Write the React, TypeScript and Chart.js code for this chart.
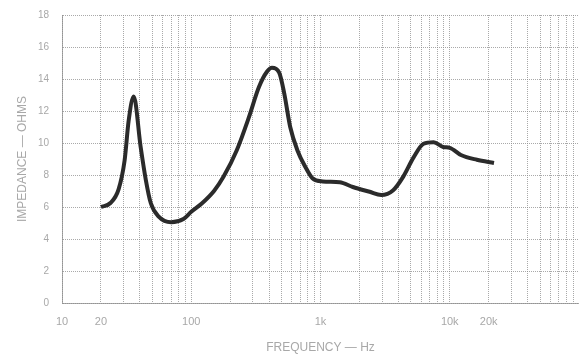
import React, { useEffect, useRef } from "react";
import { Chart, registerables } from "chart.js";

Chart.register(...registerables);

const freqHz = [20, 23.7, 27.4, 30.5, 32.8, 35.9, 40.6, 44.5, 48.6, 56, 70, 87, 100, 120, 150, 178, 225, 279, 334, 385, 421, 479, 524, 583, 662, 764, 866, 1040, 1410, 1780, 2400, 2950, 3650, 4370, 5250, 6270, 7500, 8900, 10000, 12200, 16200, 22000];
const impedanceOhms = [6.0, 6.25, 7.1, 8.9, 11.4, 12.9, 9.75, 7.7, 6.25, 5.4, 5.05, 5.25, 5.7, 6.2, 7.0, 7.9, 9.55, 11.6, 13.5, 14.45, 14.7, 14.4, 13.1, 11.0, 9.55, 8.5, 7.8, 7.6, 7.55, 7.25, 6.95, 6.75, 7.05, 7.9, 9.1, 9.95, 10.05, 9.75, 9.7, 9.25, 8.95, 8.75];

const xGridValues = [10, 20, 30, 40, 50, 60, 70, 80, 90, 100, 200, 300, 400, 500, 600, 700, 800, 900, 1000, 2000, 3000, 4000, 5000, 6000, 7000, 8000, 9000, 10000, 20000, 30000, 40000, 50000, 60000, 70000, 80000, 90000, 100000];
const xTickValues = [10, 20, 100, 1000, 10000, 20000];
const xTickLabels = ["10", "20", "100", "1k", "10k", "20k"];
const yTickValues = [0, 2, 4, 6, 8, 10, 12, 14, 16, 18];

export default function App() {
  const ref = useRef<HTMLCanvasElement | null>(null);

  useEffect(() => {
    if (!ref.current) return;
    const gridColor = "rgba(140,140,140,0.75)";
    const textColor = "#a8a8a8";
    const chart = new Chart(ref.current, {
      type: "line",
      data: {
        datasets: [
          {
            data: freqHz.map((f, i) => ({ x: f, y: impedanceOhms[i] })),
            borderColor: "#2b2b2b",
            borderWidth: 4,
            pointRadius: 0,
            cubicInterpolationMode: "monotone",
            fill: false,
          },
        ],
      },
      options: {
        animation: false,
        responsive: false,
        maintainAspectRatio: false,
        layout: { padding: { top: 15, right: 0, bottom: 0, left: 0 } },
        plugins: { legend: { display: false }, tooltip: { enabled: false } },
        scales: {
          x: {
            type: "logarithmic",
            min: 10,
            max: 100000,
            afterBuildTicks: (scale: any) => {
              scale.ticks = xGridValues.map((v) => ({ value: v }));
            },
            afterFit: (scale: any) => {
              scale.height = 54;
            },
            grid: {
              color: gridColor,
              lineWidth: 1,
              drawTicks: false,
            },
            border: { color: gridColor, dash: [1, 1] },
            ticks: {
              autoSkip: false,
              maxRotation: 0,
              minRotation: 0,
              padding: 12,
              color: textColor,
              font: { family: "'Liberation Sans', Arial, sans-serif", size: 11 },
              callback: (value: any) => {
                const idx = xTickValues.indexOf(Number(value));
                return idx >= 0 ? xTickLabels[idx] : "";
              },
            },
            title: {
              display: true,
              text: "FREQUENCY — Hz",
              color: textColor,
              font: { family: "'Liberation Sans', Arial, sans-serif", size: 12 },
              padding: { top: 0, bottom: 2 },
            },
          },
          y: {
            min: 0,
            max: 18,
            afterBuildTicks: (scale: any) => {
              scale.ticks = yTickValues.map((v) => ({ value: v }));
            },
            afterFit: (scale: any) => {
              scale.width = 62;
            },
            grid: {
              color: gridColor,
              lineWidth: 1,
              drawTicks: true,
              tickLength: 11,
              tickColor: "rgba(0,0,0,0)",
            },
            border: { color: gridColor, dash: [1, 1] },
            ticks: {
              padding: 2,
              color: textColor,
              font: { family: "'Liberation Sans', Arial, sans-serif", size: 10 },
            },
            title: {
              display: true,
              text: "IMPEDANCE — OHMS",
              color: textColor,
              font: { family: "'Liberation Sans', Arial, sans-serif", size: 12 },
              padding: { top: 15, bottom: 0 },
            },
          },
        },
      },
    });
    return () => chart.destroy();
  }, []);

  return (
    <div style={{ position: "fixed", left: 0, top: 0, width: 579, height: 357, overflow: "hidden", background: "#fff" }}>
      <canvas ref={ref} width={591} height={357} style={{ width: 591, height: 357, display: "block" }} />
    </div>
  );
}
